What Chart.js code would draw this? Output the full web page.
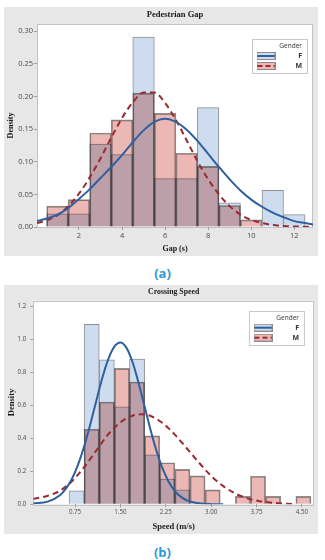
<!DOCTYPE html>
<html><head><meta charset="utf-8">
<script src="https://cdn.jsdelivr.net/npm/chart.js@4.4.1/dist/chart.umd.min.js"></script>
<style>
html,body{margin:0;padding:0;background:#fff;width:325px;height:560px;overflow:hidden;}
.panel{position:absolute;left:4px;width:314px;height:249px;background:#e7e7e7;}
.panel canvas{display:block;}
.cap{position:absolute;left:0;width:325px;text-align:center;font:bold 13px "Open Sans",sans-serif;color:#2a9ad6;line-height:16px;}
</style></head><body>
<div class="panel" style="top:7px"><canvas id="ca" width="314" height="249"></canvas></div>
<div class="cap" style="top:265px">(a)</div>
<div class="panel" style="top:285px"><canvas id="cb" width="314" height="249"></canvas></div>
<div class="cap" style="top:544px">(b)</div>
<script>
// ---------- (a) Pedestrian Gap ----------
const gapBins = [1, 2, 3, 4, 5, 6, 7, 8, 9, 10, 11, 12];
const gapF = [0.020, 0.020, 0.127, 0.111, 0.291, 0.074, 0.074, 0.183, 0.037, 0, 0.056, 0.019];
const gapM = [0.032, 0.042, 0.144, 0.164, 0.205, 0.174, 0.113, 0.093, 0.033, 0.011, 0, 0];
const gapCurveX = [0.05, 0.5, 1, 1.5, 2, 2.5, 3, 3.5, 4, 4.5, 5, 5.5, 6, 6.5, 7, 7.5, 8, 8.5, 9, 9.5, 10, 10.5, 11, 11.5, 12, 12.5, 12.87];
const gapCurveF = [0.009, 0.013, 0.019, 0.029, 0.043, 0.058, 0.075, 0.092, 0.110, 0.130, 0.148, 0.161, 0.166, 0.161, 0.149, 0.132, 0.112, 0.092, 0.073, 0.056, 0.042, 0.031, 0.022, 0.015, 0.009, 0.006, 0.004];
const gapCurveM = [0.006, 0.010, 0.018, 0.032, 0.051, 0.076, 0.105, 0.137, 0.167, 0.191, 0.206, 0.206, 0.190, 0.164, 0.133, 0.101, 0.073, 0.050, 0.032, 0.019, 0.011, 0.006, 0.003, 0.0015, 0.0008, 0.0004, 0.0002];
const gapXTicks = ['2', '4', '6', '8', '10', '12'];
const gapYTicks = ['0.00', '0.05', '0.10', '0.15', '0.20', '0.25', '0.30'];

// ---------- (b) Crossing Speed ----------
const speedBins = [0.775, 1.025, 1.275, 1.525, 1.775, 2.025, 2.275, 2.525, 2.775, 3.025, 3.275, 3.525, 3.775, 4.025, 4.275, 4.525];
const speedF = [0.082, 1.09, 0.875, 0.59, 0.88, 0.30, 0.153, 0.087, 0, 0, 0, 0, 0, 0, 0, 0];
const speedM = [0, 0.455, 0.62, 0.824, 0.741, 0.415, 0.252, 0.212, 0.172, 0.087, 0, 0.048, 0.170, 0.048, 0, 0.048];
const speedCurveXF = [0.06, 0.3, 0.5, 0.6, 0.7, 0.8, 0.9, 1.0, 1.1, 1.2, 1.3, 1.4, 1.5, 1.6, 1.7, 1.8, 1.9, 2.0, 2.1, 2.2, 2.3, 2.4, 2.5, 2.6, 2.8, 3.0, 3.2];
const speedCurveF = [0.006, 0.016, 0.055, 0.095, 0.155, 0.240, 0.350, 0.482, 0.625, 0.765, 0.880, 0.955, 0.980, 0.948, 0.862, 0.735, 0.592, 0.448, 0.320, 0.214, 0.135, 0.080, 0.045, 0.024, 0.006, 0.001, 0.0002];
const speedCurveXM = [0.06, 0.3, 0.5, 0.7, 0.9, 1.1, 1.3, 1.5, 1.7, 1.85, 2.0, 2.2, 2.4, 2.6, 2.8, 3.0, 3.2, 3.4, 3.6, 3.8, 4.0, 4.2, 4.4];
const speedCurveM = [0.033, 0.052, 0.082, 0.140, 0.225, 0.325, 0.425, 0.497, 0.537, 0.545, 0.535, 0.492, 0.422, 0.338, 0.252, 0.172, 0.110, 0.065, 0.036, 0.019, 0.010, 0.004, 0.001];
const speedXTicks = ['0.75', '1.50', '2.25', '3.00', '3.75', '4.50'];
const speedYTicks = ['0.0', '0.2', '0.4', '0.6', '0.8', '1.0', '1.2'];

const legendTitle = 'Gender';
const seriesNames = ['F', 'M'];

// ---------- styling ----------
const FILL_F = '#cddcee';
const FILL_M = '#ebb8b6';
const EDGE = '#8f8f8f';
const LINE_F = '#2f5f9f';
const LINE_M = '#9a2a2e';

function swatch(fill, line, dash) {
  const c = document.createElement('canvas');
  c.width = 19; c.height = 8;
  const g = c.getContext('2d');
  g.fillStyle = fill; g.fillRect(0.5, 0.5, 18, 7);
  g.strokeStyle = '#8a8a8a'; g.lineWidth = 1; g.strokeRect(0.5, 0.5, 18, 7);
  g.strokeStyle = line; g.lineWidth = 2; g.setLineDash(dash);
  g.beginPath(); g.moveTo(1, 4); g.lineTo(18, 4); g.stroke();
  return c;
}
const swF = swatch(FILL_F, LINE_F, []);
const swM = swatch(FILL_M, LINE_M, [5, 3]);

const framePlugin = {
  id: 'frame',
  afterLayout(chart, args, o) {
    const lg = chart.legend, a = chart.chartArea;
    const fl = a.right - o.right - o.w, ft = a.top + o.top;
    lg.left = fl + 1; lg.right = fl + o.w - 5; lg.width = lg.right - lg.left;
    lg.top = ft; lg.bottom = ft + o.h; lg.height = o.h;
    chart.$frameBox = [fl, ft, o.w, o.h];
  },
  beforeDraw(chart) {
    const {ctx, chartArea: a} = chart;
    ctx.save();
    ctx.fillStyle = '#ffffff';
    ctx.fillRect(a.left, a.top, a.width, a.height);
    ctx.strokeStyle = '#c2c2c2'; ctx.lineWidth = 1;
    ctx.strokeRect(Math.round(a.left) + 0.5, Math.round(a.top) + 0.5, Math.round(a.width) - 1, Math.round(a.height));
    const b = chart.$frameBox;
    if (b) {
      ctx.strokeStyle = '#c8c8c8';
      ctx.strokeRect(Math.round(b[0]) + 0.5, Math.round(b[1]) + 0.5, Math.round(b[2]), Math.round(b[3]));
    }
    ctx.restore();
  },
  beforeDatasetDraw(chart, args) {
    if (args.meta.type === 'bar' && args.meta._dataset.label === 'M') {
      chart.ctx.save();
      chart.ctx.globalCompositeOperation = 'multiply';
    }
  },
  afterDatasetDraw(chart, args) {
    if (args.meta.type === 'bar' && args.meta._dataset.label === 'M') chart.ctx.restore();
  }
};

function toBars(bins, vals) { return bins.map((b, i) => ({x: b, y: vals[i] > 0 ? vals[i] : null})); }
function toLine(xs, ys) { return xs.map((x, i) => ({x: x, y: ys[i]})); }

function makeChart(id, g) {
  const serif = 'Liberation Serif';
  const sans = 'Open Sans';
  return new Chart(document.getElementById(id), {
    type: 'bar',
    data: {
      datasets: [
        {type: 'line', label: 'F curve', data: toLine(g.cxF, g.cF), borderColor: LINE_F, borderWidth: 2, pointRadius: 0, tension: 0.4, cubicInterpolationMode: 'monotone', fill: false, order: 0},
        {type: 'line', label: 'M curve', data: toLine(g.cxM, g.cM), borderColor: LINE_M, borderWidth: 2, borderDash: [6, 4], pointRadius: 0, tension: 0.4, cubicInterpolationMode: 'monotone', fill: false, order: 0},
        {label: 'M', data: toBars(g.bins, g.M), backgroundColor: FILL_M, borderColor: EDGE, borderWidth: 1, grouped: false, barPercentage: 1, categoryPercentage: 1, order: 1},
        {label: 'F', data: toBars(g.bins, g.F), backgroundColor: FILL_F, borderColor: EDGE, borderWidth: 1, grouped: false, barPercentage: 1, categoryPercentage: 1, order: 2}
      ]
    },
    options: {
      responsive: false, animation: false, devicePixelRatio: 1,
      layout: {padding: {left: 0, right: g.padR, top: 0, bottom: 0}},
      plugins: {
        tooltip: {enabled: false},
        title: {display: true, text: g.title, fullSize: false, color: '#1a1a1a',
          font: {family: serif, size: g.titleSize, weight: 'bold', lineHeight: 1.2},
          padding: {top: g.titlePadT, bottom: g.titlePadB}},
        legend: {
          position: 'chartArea', align: 'start',
          title: {display: true, text: legendTitle, position: 'end', color: '#333',
            font: {family: sans, size: 6.5, lineHeight: 1}, padding: {top: 4, bottom: 0}},
          labels: {
            usePointStyle: true, pointStyleWidth: 20, padding: 3, textAlign: 'right', color: '#333',
            font: {family: sans, size: 7, weight: 'bold'},
            generateLabels: () => [
              {text: seriesNames[0], pointStyle: swF, fillStyle: FILL_F, strokeStyle: EDGE, lineWidth: 0, hidden: false, datasetIndex: 3, fontColor: '#333'},
              {text: seriesNames[1], pointStyle: swM, fillStyle: FILL_M, strokeStyle: EDGE, lineWidth: 0, hidden: false, datasetIndex: 2, fontColor: '#333'}
            ]
          }
        },
        frame: g.legendBox
      },
      scales: {
        x: {
          type: 'linear', min: g.xMin, max: g.xMax, offset: false,
          afterBuildTicks: s => { s.ticks = g.xTicks.map(t => ({value: parseFloat(t)})); },
          afterFit: s => { s.height = g.xAxisH; },
          ticks: {callback: (v, i) => g.xTicks[i], font: {family: sans, size: g.tickSize}, color: '#4a4a4a', padding: g.xTickPad, maxRotation: 0, autoSkip: false},
          grid: {drawOnChartArea: false, drawTicks: true, tickLength: 3, color: '#a0a0a0', offset: false},
          border: {display: false},
          title: {display: true, text: g.xTitle, color: '#1a1a1a', font: {family: serif, size: g.axTitleSize, weight: 'bold', lineHeight: 1.2}, padding: {top: 0, bottom: g.xTitlePadB}}
        },
        y: {
          type: 'linear', min: 0, max: g.yMax,
          afterBuildTicks: s => { s.ticks = g.yTicks.map(t => ({value: parseFloat(t)})); },
          afterFit: s => { s.width = g.yAxisW; },
          ticks: {callback: (v, i) => g.yTicks[i], font: {family: sans, size: g.tickSize}, color: '#4a4a4a', padding: g.yTickPad},
          grid: {drawOnChartArea: false, drawTicks: true, tickLength: 3, color: '#a0a0a0'},
          border: {display: false},
          title: {display: true, text: 'Density', color: '#1a1a1a', font: {family: serif, size: g.axTitleSize, weight: 'bold', lineHeight: 1.2}, padding: {top: g.yTitlePadT, bottom: 0}}
        }
      }
    },
    plugins: [framePlugin]
  });
}

makeChart('ca', {
  title: 'Pedestrian Gap', xTitle: 'Gap (s)',
  bins: gapBins, F: gapF, M: gapM,
  cxF: gapCurveX, cF: gapCurveF, cxM: gapCurveX, cM: gapCurveM,
  xTicks: gapXTicks, yTicks: gapYTicks,
  xMin: 0.05, xMax: 12.87, yMax: 0.311,
  padR: 5, yAxisW: 33, xAxisH: 29,
  titleSize: 8.5, titlePadT: 2.9, titlePadB: 3.9,
  tickSize: 7.5, axTitleSize: 8, xTickPad: 1.5, yTickPad: 1, xTitlePadB: 2, yTitlePadT: 2,
  legendBox: {right: 6, top: 15, w: 55, h: 34}
});

makeChart('cb', {
  title: 'Crossing Speed', xTitle: 'Speed (m/s)',
  bins: speedBins, F: speedF, M: speedM,
  cxF: speedCurveXF, cF: speedCurveF, cxM: speedCurveXM, cM: speedCurveM,
  xTicks: speedXTicks, yTicks: speedYTicks,
  xMin: 0.06, xMax: 4.70, yMax: 1.234,
  padR: 4, yAxisW: 29.3, xAxisH: 29.7,
  titleSize: 7.8, titlePadT: 2.6, titlePadB: 3.7,
  tickSize: 6.2, axTitleSize: 8.5, xTickPad: 0.8, yTickPad: 4, xTitlePadB: 2.2, yTitlePadT: 3,
  legendBox: {right: 10, top: 10, w: 55, h: 34}
});
</script>
</body></html>
